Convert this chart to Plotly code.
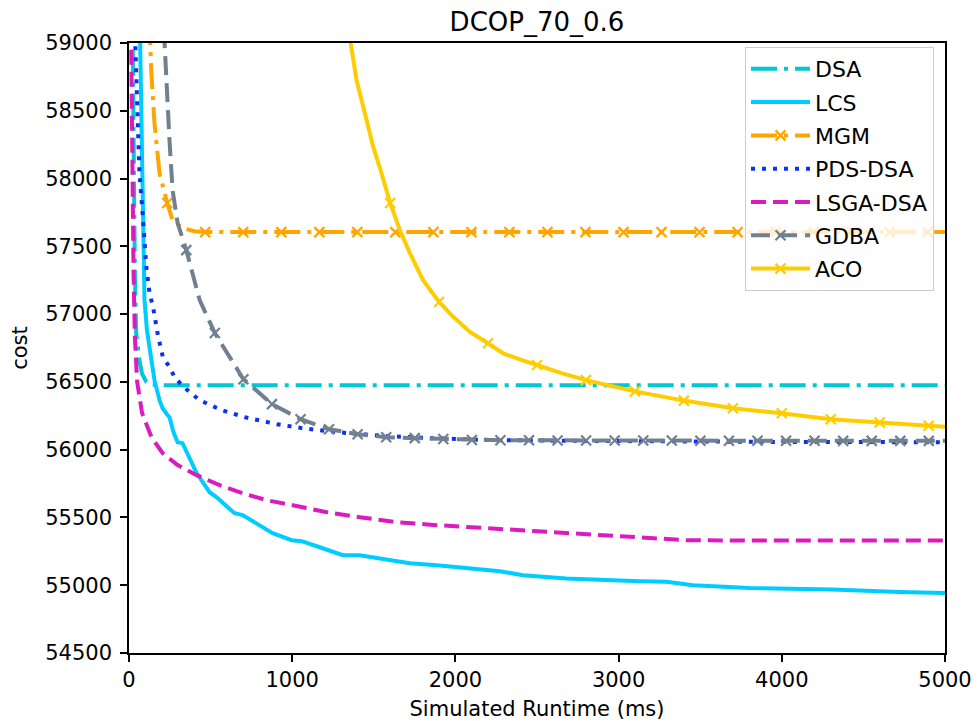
import plotly.graph_objects as go

# ---------------- data ----------------
dsa_x = [18, 23, 28, 36, 44, 55, 64, 80, 106, 130, 200, 5000]
dsa_y = [59600, 59000, 58000, 57300, 56860, 56720, 56660, 56560, 56500, 56480, 56476, 56475]

lcs_x = [60, 68, 81, 95, 110, 126, 156, 187, 206, 230, 248, 275, 298, 328, 370, 414, 494, 537, 600,
         647, 696, 782, 880, 997, 1058, 1169, 1310, 1414, 1580, 1721, 1887, 2071, 2150, 2272, 2415,
         2680, 3129, 3292, 3456, 3802, 4311, 4517, 4721, 5000]
lcs_y = [59600, 59000, 57900, 57103, 56880, 56734, 56513, 56365, 56306, 56265, 56240, 56120, 56055,
         56048, 55940, 55827, 55686, 55649, 55580, 55531, 55517, 55458, 55384, 55332, 55325, 55280,
         55221, 55221, 55192, 55162, 55148, 55125, 55118, 55103, 55074, 55050, 55030, 55025, 55000,
         54980, 54968, 54958, 54950, 54942]

mgm_x = [115, 126, 136, 156, 187, 234, 267, 328, 400, 467, 700, 933, 1166, 1399, 1632, 1865, 2098,
         2331, 2564, 2797, 3030, 3263, 3496, 3729, 3962, 4195, 4428, 4661, 4894, 5000]
mgm_y = [59500, 59000, 58800, 58410, 58040, 57820, 57694, 57635, 57612, 57605, 57605, 57605, 57605,
         57605, 57605, 57605, 57605, 57605, 57605, 57605, 57605, 57605, 57605, 57605, 57605, 57605,
         57605, 57605, 57605, 57605]
mgm_marks = [234, 467, 700, 933, 1166, 1399, 1632, 1865, 2098, 2331, 2564, 2797, 3030, 3263, 3496,
             3729, 3962, 4195, 4428, 4661, 4894]

pds_x = [30, 38, 64, 85, 106, 126, 147, 177, 207, 248, 279, 328, 381, 433, 567, 708, 905, 1058,
         1273, 1580, 1844, 2193, 2600, 3000, 3500, 4000, 4500, 5000]
pds_y = [59300, 59000, 58040, 57718, 57349, 57155, 57054, 56845, 56685, 56609, 56537, 56469, 56417,
         56365, 56292, 56240, 56188, 56159, 56129, 56100, 56085, 56072, 56066, 56062, 56059, 56057,
         56056, 56055]

lsga_x = [8, 13, 20, 28, 36, 50, 80, 138, 206, 298, 414, 555, 696, 844, 1003, 1212, 1414, 1641,
          1862, 2089, 2272, 2680, 3088, 3414, 3700, 5000]
lsga_y = [59600, 59000, 58000, 57300, 56830, 56500, 56270, 56092, 55974, 55886, 55812, 55738, 55679,
          55627, 55590, 55539, 55502, 55465, 55445, 55428, 55413, 55382, 55352, 55332, 55330, 55330]

gdba_x = [205, 218, 248, 267, 298, 351, 433, 526, 701, 876, 1051, 1226, 1401, 1576, 1751, 1926,
          2101, 2276, 2451, 2626, 2801, 2976, 3151, 3326, 3501, 3676, 3851, 4026, 4201, 4376, 4551,
          4726, 4901, 5000]
gdba_y = [59500, 59000, 58284, 57915, 57672, 57472, 57103, 56860, 56520, 56336, 56225, 56151, 56114,
          56092, 56085, 56078, 56072, 56070, 56069, 56068, 56068, 56067, 56067, 56067, 56066, 56066,
          56066, 56066, 56066, 56065, 56065, 56065, 56065, 56065]
gdba_marks = [351, 526, 701, 876, 1051, 1226, 1401, 1576, 1751, 1926, 2101, 2276, 2451, 2626, 2801,
              2976, 3151, 3326, 3501, 3676, 3851, 4026, 4201, 4376, 4551, 4726, 4901]

aco_x = [1300, 1357, 1394, 1445, 1496, 1547, 1600, 1660, 1721, 1802, 1900, 1987, 2089, 2200, 2293,
         2400, 2500, 2650, 2800, 2950, 3100, 3400, 3700, 4000, 4300, 4600, 4900, 5000]
aco_y = [59450, 59022, 58727, 58483, 58235, 58041, 57820, 57620, 57450, 57251, 57090, 56980, 56869,
         56785, 56710, 56665, 56625, 56565, 56513, 56468, 56430, 56362, 56305, 56268, 56224, 56201,
         56176, 56169]
aco_marks = [1600, 1900, 2200, 2500, 2800, 3100, 3400, 3700, 4000, 4300, 4600, 4900]

x_ticks = [0, 1000, 2000, 3000, 4000, 5000]
y_ticks = [54500, 55000, 55500, 56000, 56500, 57000, 57500, 58000, 58500, 59000]

# ---------------- styles ----------------
FONT = "DejaVu Sans"
FS = 21
LW = 4
series = [
    # name, x, y, color, dash, marks
    ("DSA", dsa_x, dsa_y, "#00C8D4", "26px,7px,4px,7px", None),
    ("LCS", lcs_x, lcs_y, "#00CCFF", "solid", None),
    ("MGM", mgm_x, mgm_y, "#FFA500", "26px,7px,4px,7px", mgm_marks),
    ("PDS-DSA", pds_x, pds_y, "#0A32F0", "4px,7px", None),
    ("LSGA-DSA", lsga_x, lsga_y, "#D91BBF", "15px,7px", None),
    ("GDBA", gdba_x, gdba_y, "#708090", "19px,8px", gdba_marks),
    ("ACO", aco_x, aco_y, "#FFCC00", "solid", aco_marks),
]

fig = go.Figure()
for name, xs, ys, color, dash, marks in series:
    line = dict(color=color, width=LW, dash=dash)
    has_marks = marks is not None
    fig.add_trace(go.Scatter(x=xs, y=ys, mode="lines", line=line, name=name,
                             legendgroup=name, showlegend=not has_marks))
    if has_marks:
        lookup = dict(zip(xs, ys))
        mk = dict(symbol="x-thin", size=10, color=color, line=dict(color=color, width=2.2))
        fig.add_trace(go.Scatter(x=marks, y=[lookup[m] for m in marks], mode="markers",
                                 marker=mk, name=name, legendgroup=name, showlegend=False))
        # legend entry (line + marker)
        fig.add_trace(go.Scatter(x=[None], y=[None], mode="lines+markers", line=line,
                                 marker=mk, name=name, legendgroup=name, showlegend=True))

axis_common = dict(
    showline=True, linecolor="black", linewidth=1.5, mirror=True,
    ticks="outside", ticklen=7, tickwidth=1.5, tickcolor="black",
    showgrid=False, zeroline=False, automargin=False,
    tickfont=dict(family=FONT, size=FS, color="black"),
)

fig.update_layout(
    width=979, height=721,
    margin=dict(l=129, r=34, t=43, b=68),
    paper_bgcolor="white", plot_bgcolor="white",
    font=dict(family=FONT, size=FS, color="black"),
    title=dict(text="DCOP_70_0.6", x=0.5, xref="paper", xanchor="center",
               y=1 - 22 / 721, yref="container", yanchor="middle",
               font=dict(family=FONT, size=26, color="black")),
    xaxis=dict(range=[0, 5000], tickvals=x_ticks, ticktext=[str(v) for v in x_ticks],
               title=dict(text="Simulated Runtime (ms)", standoff=10,
                          font=dict(family=FONT, size=FS, color="black")),
               **axis_common),
    yaxis=dict(range=[54500, 59000], tickvals=y_ticks, ticktext=[str(v) for v in y_ticks],
               title=dict(text="cost", standoff=12,
                          font=dict(family=FONT, size=FS, color="black")),
               ticklabelstandoff=4,
               **axis_common),
    legend=dict(x=(745 - 129) / 816, y=1 - 4 / 610, xanchor="left", yanchor="top",
                bgcolor="rgba(255,255,255,0.8)", bordercolor="#cccccc", borderwidth=1,
                font=dict(family=FONT, size=22, color="black"),
                traceorder="grouped", tracegroupgap=1.7, itemwidth=59),
    showlegend=True,
)

fig.write_html("out.html")
